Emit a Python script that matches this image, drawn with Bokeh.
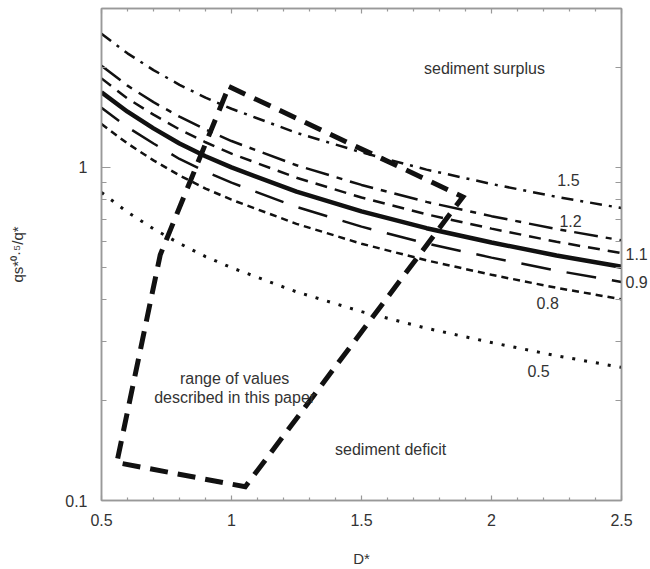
from bokeh.plotting import figure
from bokeh.models import (Range1d, LinearAxis, LogAxis, FixedTicker,
                          LabelSet, ColumnDataSource)
from bokeh.core.properties import value
from bokeh.embed import file_html
from bokeh.resources import INLINE

# ---------------- data ----------------
d_star = [0.5, 0.6, 0.7, 0.8, 0.9, 1.0, 1.25, 1.5, 1.75, 2.0, 2.25, 2.5]

curve_1_5 = [2.52, 2.20, 1.96, 1.77, 1.62, 1.50, 1.27, 1.11, 0.985, 0.892, 0.816, 0.755]
curve_1_2 = [2.02, 1.76, 1.57, 1.42, 1.30, 1.20, 1.015, 0.886, 0.788, 0.714, 0.653, 0.604]
curve_1_1 = [1.85, 1.61, 1.44, 1.30, 1.19, 1.10, 0.931, 0.812, 0.723, 0.655, 0.598, 0.553]
curve_1_0 = [1.68, 1.47, 1.31, 1.18, 1.08, 1.00, 0.846, 0.738, 0.657, 0.595, 0.544, 0.503]
curve_0_9 = [1.51, 1.32, 1.18, 1.06, 0.972, 0.90, 0.761, 0.664, 0.591, 0.536, 0.490, 0.453]
curve_0_8 = [1.35, 1.18, 1.05, 0.946, 0.864, 0.80, 0.677, 0.590, 0.526, 0.476, 0.435, 0.402]
curve_0_5 = [0.841, 0.734, 0.654, 0.591, 0.540, 0.50, 0.423, 0.369, 0.329, 0.298, 0.272, 0.251]

# outline of the "range of values described in this paper"
range_x = [0.99, 1.89, 1.053, 0.559, 0.726, 0.99]
range_y = [1.75, 0.816, 0.110, 0.130, 0.547, 1.75]

# curve labels inside the frame
curve_label_text = ["1.5", "1.2", "0.8", "0.5"]
curve_label_x = [2.296, 2.304, 2.216, 2.181]
curve_label_y = [0.918, 0.689, 0.393, 0.2456]

# curve labels just outside the right edge (placed by the right axis)
edge_label_text = ["1.1", "0.9"]
edge_label_y = [0.549, 0.453]

# region annotations
note_text = ["sediment surplus", "range of values", "described in this paper", "sediment deficit"]
note_x = [1.973, 1.012, 1.012, 1.612]
note_y = [1.984, 0.2324, 0.204, 0.1427]

x_ticks = [0.5, 1.0, 1.5, 2.0, 2.5]
x_tick_labels = ["0.5", "1", "1.5", "2", "2.5"]
x_minor = [0.6, 0.7, 0.8, 0.9, 1.1, 1.2, 1.3, 1.4, 1.6, 1.7, 1.8, 1.9,
           2.1, 2.2, 2.3, 2.4]
y_ticks = [0.1, 1.0]
y_tick_labels = ["0.1", "1"]
y_minor = [0.2, 0.3, 0.4, 0.5, 0.6, 0.7, 0.8, 0.9, 2.0, 3.0]
y_all = [0.1, 0.2, 0.3, 0.4, 0.5, 0.6, 0.7, 0.8, 0.9, 1.0, 2.0, 3.0]

# ---------------- figure ----------------
FONT = "Liberation Sans"
TXT = "#333333"
AX = "#999999"

p = figure(width=650, height=569, x_range=Range1d(0.5, 2.5),
           y_range=Range1d(0.1, 3.0), y_axis_type="log",
           output_backend="svg", toolbar_location=None,
           min_border_left=101, min_border_right=29,
           min_border_top=8, min_border_bottom=66)
p.xgrid.visible = False
p.ygrid.visible = False
p.outline_line_color = AX
p.outline_line_width = 1.5
p.background_fill_color = "white"
p.border_fill_color = "white"

xt = FixedTicker(ticks=x_ticks, minor_ticks=x_minor)
yt = FixedTicker(ticks=y_ticks, minor_ticks=y_minor)


def style_axis(ax, major_in, minor_in):
    ax.axis_line_color = AX
    ax.axis_line_width = 1.5
    ax.major_tick_line_color = AX
    ax.minor_tick_line_color = AX
    ax.major_tick_line_width = 1.2
    ax.minor_tick_line_width = 1.2
    ax.major_tick_in = major_in
    ax.major_tick_out = 0
    ax.minor_tick_in = minor_in
    ax.minor_tick_out = 0
    ax.major_label_text_font = FONT
    ax.major_label_text_color = TXT
    ax.major_label_text_font_size = "16px"


xa = p.xaxis[0]
xa.ticker = xt
xa.major_label_overrides = dict(zip(x_ticks, x_tick_labels))
style_axis(xa, 5, 3)
xa.major_label_standoff = 13
xa.axis_label = "D*"
xa.axis_label_text_font = FONT
xa.axis_label_text_font_style = "normal"
xa.axis_label_text_font_size = "15px"
xa.axis_label_text_color = TXT
xa.axis_label_standoff = 21

ya = p.yaxis[0]
ya.ticker = yt
ya.major_label_overrides = dict(zip(y_ticks, y_tick_labels))
style_axis(ya, 9, 5)
ya.major_label_standoff = 14
ya.axis_label = "qs*\u2070\u00b7\u2075/q*"
ya.axis_label_text_font = FONT
ya.axis_label_text_font_style = "normal"
ya.axis_label_text_font_size = "15px"
ya.axis_label_text_color = TXT
ya.axis_label_standoff = 36

top = LinearAxis(ticker=xt)
style_axis(top, 5, 3)
top.major_label_text_font_size = "1px"
top.major_label_text_color = None
top.major_label_standoff = 0
p.add_layout(top, "above")

# right axis: ticks mirror the left one, labels name the 1.1 / 0.9 curves
right = LogAxis(ticker=FixedTicker(ticks=edge_label_y, minor_ticks=y_all))
style_axis(right, 0, 6)
right.major_label_overrides = dict(zip(edge_label_y, edge_label_text))
right.major_label_standoff = 4
p.add_layout(right, "right")

# ---------------- curves ----------------
K = "#111111"
p.line(d_star, curve_1_5, line_color=K, line_width=2.5, line_dash="12 7 3 7")
p.line(d_star, curve_1_2, line_color=K, line_width=2.5, line_dash="24 8 6 8")
p.line(d_star, curve_1_1, line_color=K, line_width=2.5, line_dash="12 8")
p.line(d_star, curve_1_0, line_color=K, line_width=4.5)
p.line(d_star, curve_0_9, line_color=K, line_width=2.5, line_dash="30 16",
       line_dash_offset=8)
p.line(d_star, curve_0_8, line_color=K, line_width=2.5, line_dash="7 5")
p.line(d_star, curve_0_5, line_color=K, line_width=3, line_dash="3 9")

# range of values outline
p.line(range_x, range_y, line_color=K, line_width=5, line_dash="18 10",
       line_join="miter")

# ---------------- labels ----------------
src_c = ColumnDataSource(dict(x=curve_label_x, y=curve_label_y, t=curve_label_text))
p.add_layout(LabelSet(x="x", y="y", text="t", source=src_c,
                      text_align="center", text_baseline="middle",
                      text_font=value(FONT), text_font_size=value("16px"),
                      text_color=value(TXT)))

src_n = ColumnDataSource(dict(x=note_x, y=note_y, t=note_text))
p.add_layout(LabelSet(x="x", y="y", text="t", source=src_n,
                      text_align="center", text_baseline="middle",
                      text_font=value(FONT), text_font_size=value("16px"),
                      text_color=value(TXT)))

open("out.html", "w").write(file_html(p, INLINE))
